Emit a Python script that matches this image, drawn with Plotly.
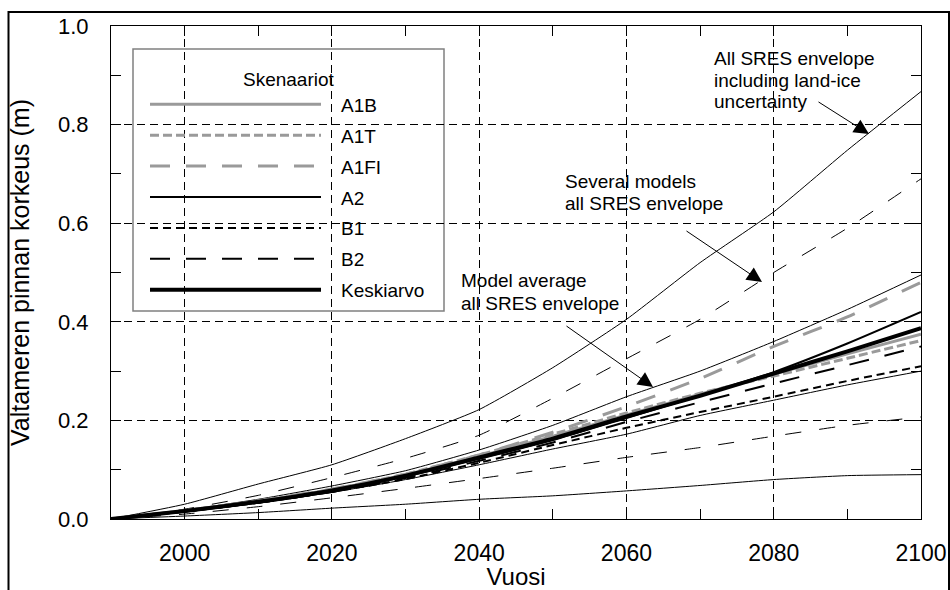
import plotly.graph_objects as go

years = [1990, 2000, 2010, 2020, 2030, 2040, 2050, 2060, 2070, 2080, 2090, 2100]

# Envelopes (thin lines)
all_sres_landice_upper = [0, 0.030, 0.071, 0.110, 0.163, 0.222, 0.307, 0.405, 0.520, 0.623, 0.748, 0.867]
all_sres_landice_lower = [0, 0.006, 0.013, 0.022, 0.030, 0.040, 0.047, 0.057, 0.068, 0.080, 0.088, 0.090]
several_models_upper = [0, 0.020, 0.048, 0.084, 0.123, 0.170, 0.245, 0.325, 0.405, 0.500, 0.590, 0.690]
several_models_lower = [0, 0.010, 0.025, 0.043, 0.062, 0.082, 0.103, 0.125, 0.145, 0.168, 0.190, 0.207]
model_avg_upper = [0, 0.018, 0.040, 0.067, 0.098, 0.140, 0.190, 0.248, 0.300, 0.360, 0.425, 0.495]
model_avg_lower = [0, 0.014, 0.032, 0.054, 0.080, 0.110, 0.142, 0.172, 0.210, 0.241, 0.272, 0.300]

# Scenarios
scenario_names = ["A1B", "A1T", "A1FI", "A2", "B1", "B2", "Keskiarvo"]
A1B = [0, 0.017, 0.036, 0.060, 0.090, 0.127, 0.168, 0.211, 0.253, 0.294, 0.335, 0.375]
A1T = [0, 0.017, 0.036, 0.060, 0.091, 0.130, 0.172, 0.215, 0.255, 0.290, 0.326, 0.362]
A1FI = [0, 0.017, 0.037, 0.061, 0.091, 0.130, 0.176, 0.228, 0.285, 0.350, 0.410, 0.480]
A2 = [0, 0.015, 0.034, 0.057, 0.086, 0.122, 0.160, 0.205, 0.250, 0.298, 0.356, 0.420]
B1 = [0, 0.015, 0.033, 0.055, 0.081, 0.114, 0.150, 0.185, 0.217, 0.248, 0.280, 0.310]
B2 = [0, 0.015, 0.033, 0.055, 0.083, 0.118, 0.155, 0.197, 0.237, 0.275, 0.312, 0.350]
Keskiarvo = [0, 0.016, 0.035, 0.058, 0.088, 0.125, 0.163, 0.208, 0.250, 0.295, 0.340, 0.387]

legend_title = "Skenaariot"

FONT = "Liberation Sans, Arial, sans-serif"
GRAY = "#9a9a9a"

fig = go.Figure()

envelopes = [
    (all_sres_landice_upper, "solid"),
    (all_sres_landice_lower, "solid"),
    (several_models_upper, "16px,18px"),
    (several_models_lower, "16px,18px"),
    (model_avg_upper, "solid"),
    (model_avg_lower, "solid"),
]
for vals, dash in envelopes:
    fig.add_trace(go.Scatter(x=years, y=vals, mode="lines", showlegend=False,
                             line=dict(color="black", width=1, dash=dash, shape="spline", smoothing=0.5),
                             hoverinfo="skip"))

styles = [
    (GRAY, 3, "solid"),
    (GRAY, 3, "9px,4px"),
    (GRAY, 3, "20px,16px"),
    ("black", 2, "solid"),
    ("black", 2, "8px,5px"),
    ("black", 2, "20px,16px"),
    ("black", 4, "solid"),
]
series = [A1B, A1T, A1FI, A2, B1, B2, Keskiarvo]
for name, vals, (col, w, dash) in zip(scenario_names, series, styles):
    fig.add_trace(go.Scatter(x=years, y=vals, mode="lines", name=name, showlegend=False,
                             line=dict(color=col, width=w, dash=dash, shape="spline", smoothing=0.5)))

def year_of(px):
    return 1990 + (px - 111) / 7.3636

def val_of(py):
    return (519 - py) / 493

def dx(px):
    return (px - 111) / 810

def dy(py):
    return (519 - py) / 493

texts = [
    ("All SRES envelope", 712, 58),
    ("including land-ice", 712, 80),
    ("uncertainty", 712, 101),
    ("Several models", 563, 181),
    ("all SRES envelope", 563, 203),
    ("Model average", 459, 280),
    ("all SRES envelope", 459, 303),
]
annotations = []
for t, px, py in texts:
    annotations.append(dict(x=year_of(px), y=val_of(py), xref="x", yref="y", text=t,
                            showarrow=False, xanchor="left", yanchor="middle",
                            font=dict(family=FONT, size=19, color="black")))

arrows = [
    ((817, 101), (869, 134)),
    ((685, 230), (762, 282)),
    ((565, 325), (653, 387)),
]
for (tx, ty), (hx, hy) in arrows:
    annotations.append(dict(x=year_of(hx), y=val_of(hy), ax=year_of(tx), ay=val_of(ty),
                            xref="x", yref="y", axref="x", ayref="y", text="",
                            showarrow=True, arrowhead=2, arrowsize=3, arrowwidth=1,
                            arrowcolor="black", standoff=0, startstandoff=0))

shapes = [
    # legend box
    dict(type="rect", xref="x domain", yref="y domain",
         x0=dx(133), x1=dx(444), y0=dy(311), y1=dy(49),
         fillcolor="white", line=dict(color="#808080", width=1.5), layer="below"),
    # outer frame
    dict(type="rect", xref="paper", yref="paper",
         x0=(8.5 - 111) / 810, x1=(949 - 111) / 810,
         y0=(519 - 600) / 493, y1=(519 - 12) / 493,
         line=dict(color="black", width=2), fillcolor="rgba(0,0,0,0)"),
]

# custom legend (long line samples like the original)
annotations.append(dict(x=dx(289), y=dy(79), xref="x domain", yref="y domain", text=legend_title,
                        showarrow=False, xanchor="center", yanchor="middle",
                        font=dict(family=FONT, size=19, color="black")))
for i, (name, (col, w, dash)) in enumerate(zip(scenario_names, styles)):
    ry = 104.3 + i * 30.9
    shapes.append(dict(type="line", xref="x domain", yref="y domain",
                       x0=dx(150), x1=dx(321), y0=dy(ry), y1=dy(ry),
                       line=dict(color=col, width=w, dash=dash), layer="above"))
    annotations.append(dict(x=dx(339), y=dy(ry + 1), xref="x domain", yref="y domain", text=name,
                            showarrow=False, xanchor="left", yanchor="middle",
                            font=dict(family=FONT, size=19, color="black")))

axis_common = dict(
    showline=True, linecolor="black", linewidth=1.2, mirror="ticks",
    ticks="inside", ticklen=10, tickcolor="black", tickwidth=1,
    showgrid=True, gridcolor="black", gridwidth=1, griddash="8px,5px",
    zeroline=False, automargin=False,
)

fig.update_xaxes(range=[1990, 2100], tick0=2000, dtick=20,
                 minor=dict(dtick=10, tick0=2000, ticks="inside", ticklen=10, tickcolor="black", showgrid=False),
                 title=dict(text="Vuosi", font=dict(family=FONT, size=24, color="black"), standoff=14),
                 tickfont=dict(family=FONT, size=23, color="black"),
                 ticklabelstandoff=13, **axis_common)
fig.update_yaxes(range=[0, 1], tick0=0, dtick=0.2, tickformat=".1f",
                 minor=dict(dtick=0.1, tick0=0, ticks="inside", ticklen=10, tickcolor="black", showgrid=False),
                 title=dict(text="Valtameren pinnan korkeus (m)", font=dict(family=FONT, size=25, color="black"), standoff=21),
                 tickfont=dict(family=FONT, size=22, color="black"),
                 ticklabelstandoff=17, **axis_common)

fig.update_layout(
    width=950, height=590, autosize=False,
    margin=dict(l=111, r=29, t=26, b=71),
    paper_bgcolor="white", plot_bgcolor="white",
    font=dict(family=FONT, color="black"),
    showlegend=False,
    annotations=annotations,
    shapes=shapes,
)

fig.write_html("out.html")
